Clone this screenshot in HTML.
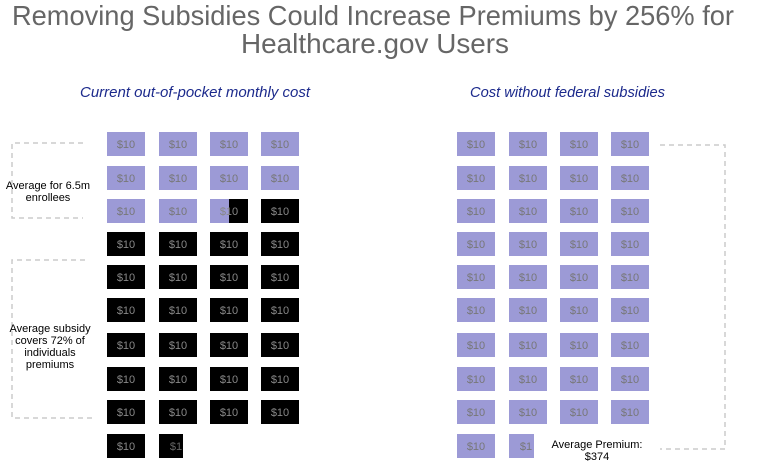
<!DOCTYPE html>
<html><head><meta charset="utf-8"><style>
body{margin:0;background:#fff}
svg{display:block}
.t{font-family:"Liberation Sans",sans-serif}
</style></head><body>
<svg width="757" height="476" viewBox="0 0 757 476" xmlns="http://www.w3.org/2000/svg" class="t">
<text x="12" y="25" font-size="28" fill="#666" textLength="722" lengthAdjust="spacingAndGlyphs">Removing Subsidies Could Increase Premiums by 256% for</text>
<text x="241" y="53" font-size="28" fill="#666" textLength="268" lengthAdjust="spacingAndGlyphs">Healthcare.gov Users</text>
<text x="80" y="97" font-size="15" font-style="italic" fill="#1c2a8c" textLength="230" lengthAdjust="spacingAndGlyphs">Current out-of-pocket monthly cost</text>
<text x="470" y="97" font-size="15" font-style="italic" fill="#1c2a8c" textLength="195" lengthAdjust="spacingAndGlyphs">Cost without federal subsidies</text>
<g fill="none" stroke="#ccc" stroke-width="1.5" stroke-dasharray="5,4">
<path d="M83 143 H12 V218 H83"/>
<path d="M85 260 H12 V418 H96"/>
<path d="M660 145 H725 V449 H660"/>
</g>
<g font-size="11" fill="#000" text-anchor="middle">
<text x="48" y="189">Average for 6.5m</text>
<text x="48" y="201">enrollees</text>
<text x="50" y="332">Average subsidy</text>
<text x="50" y="344">covers 72% of</text>
<text x="50" y="356">individuals</text>
<text x="50" y="368">premiums</text>
<text x="597" y="448">Average Premium:</text>
<text x="597" y="460">$374</text>
</g>
<g id="boxes" font-size="11" text-anchor="middle">
<script>
(function(){
var g=document.getElementById('boxes');var ns="http://www.w3.org/2000/svg";
var rows=[132,166,199,232,265,298,333,367,400,434];
var L=[107,159,210,261],R=[457,509,560,611];
function box(x,y,w,c,t){var r=document.createElementNS(ns,'rect');r.setAttribute('x',x);r.setAttribute('y',y);r.setAttribute('width',w);r.setAttribute('height',24);r.setAttribute('fill',c);g.appendChild(r);}
function txt(x,y,s,c){var e=document.createElementNS(ns,'text');e.setAttribute('x',x);e.setAttribute('y',y+16);e.setAttribute('fill',c);e.textContent=s;g.appendChild(e);}
var P="#9c9ad6",B="#000";
for(var i=0;i<10;i++){for(var j=0;j<4;j++){
 var y=rows[i];
 // left
 if(i==9&&j>1){}else if(i==2&&j==2){box(L[j],y,19,P);box(L[j]+19,y,19,B);txt(L[j]+19,y,"$10","#888");}
 else if(i==9&&j==1){box(L[j],y,24,B);txt(L[j]+17,y,"$1","#666");}
 else{var c=(i<2||(i==2&&j<2))?P:B;box(L[j],y,38,c);txt(L[j]+19,y,"$10",c==P?"#777":"#888");}
 // right
 if(i==9&&j>1){}else if(i==9&&j==1){box(R[j],y,25,P);txt(R[j]+17,y,"$1","#777");}
 else{box(R[j],y,38,P);txt(R[j]+19,y,"$10","#777");}
}}
})();
</script>
</g>
</svg>
</body></html>
